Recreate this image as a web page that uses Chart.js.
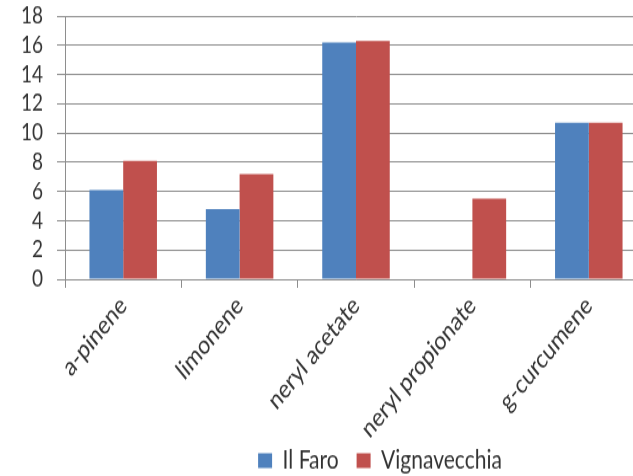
<!DOCTYPE html>
<html>
<head>
<meta charset="utf-8">
<script src="https://cdn.jsdelivr.net/npm/chart.js@4/dist/chart.umd.min.js"></script>
<style>
  html, body { margin: 0; padding: 0; background: #fff; overflow: hidden; width: 633px; height: 476px; }
  /* the chart is drawn a little squat and stretched vertically to the full height */
  #wrap { position: relative; width: 760px; height: 387px; transform: scaleY(1.23); transform-origin: 0 0; }
</style>
</head>
<body>
<div id="wrap"><canvas id="c" width="760" height="387"></canvas></div>
<script>
// Compounds measured in the two samples
const categories = ['a-pinene', 'limonene', 'neryl acetate', 'neryl propionate', 'g-curcumene'];
const ilFaro = [6.1, 4.8, 16.2, 0, 10.7];
const vignavecchia = [8.1, 7.2, 16.3, 5.5, 10.7];
const seriesNames = ['Il Faro', 'Vignavecchia'];
const yTicks = [0, 2, 4, 6, 8, 10, 12, 14, 16, 18];

const FONT = 'Lato, "Open Sans", sans-serif';
const gridColor = '#8e8e8e';
const textColor = '#333';

new Chart(document.getElementById('c'), {
  type: 'bar',
  data: {
    labels: categories,
    datasets: [
      { label: seriesNames[0], data: ilFaro, backgroundColor: '#4f81bd' },
      { label: seriesNames[1], data: vignavecchia, backgroundColor: '#c0504d' }
    ]
  },
  options: {
    responsive: false,
    animation: false,
    datasets: { bar: { categoryPercentage: 0.58, barPercentage: 1.0 } },
    layout: { padding: { top: 0, right: 0, left: 0, bottom: -8 } },
    plugins: {
      tooltip: { enabled: false },
      legend: {
        position: 'bottom',
        labels: {
          color: textColor,
          font: { family: FONT, size: 21 },
          boxWidth: 14, boxHeight: 12,
          padding: 18
        }
      }
    },
    scales: {
      x: {
        grid: { display: true, drawOnChartArea: false, offset: true, color: gridColor, tickLength: 7 },
        border: { display: true, color: gridColor },
        ticks: {
          color: textColor,
          font: { family: FONT, size: 21 },
          minRotation: 45, maxRotation: 45,
          padding: 2
        },
        afterFit: (axis) => {
          axis.height = 119;
          axis.paddingLeft = 0;
          axis.paddingRight = 0;
          // long rotated labels may run past the axis box; draw them whole
          axis._computeLabelArea = () => undefined;
        }
      },
      y: {
        min: 0, max: 18,
        afterBuildTicks: (axis) => { axis.ticks = yTicks.map(v => ({ value: v })); },
        grid: { color: gridColor, tickLength: 8 },
        border: { display: true, color: gridColor },
        ticks: {
          autoSkip: false,
          color: textColor,
          font: { family: FONT, size: 19, lineHeight: 1 },
          padding: 14
        },
        afterFit: (axis) => { axis.width = 65; axis.paddingTop = 13; }
      },
      // empty right-hand margin beside the plot
      yRight: {
        position: 'right',
        display: true,
        grid: { display: false },
        border: { display: false },
        ticks: { display: false },
        afterFit: (axis) => { axis.width = 113; axis.paddingTop = 0; }
      }
    }
  }
});
</script>
</body>
</html>
